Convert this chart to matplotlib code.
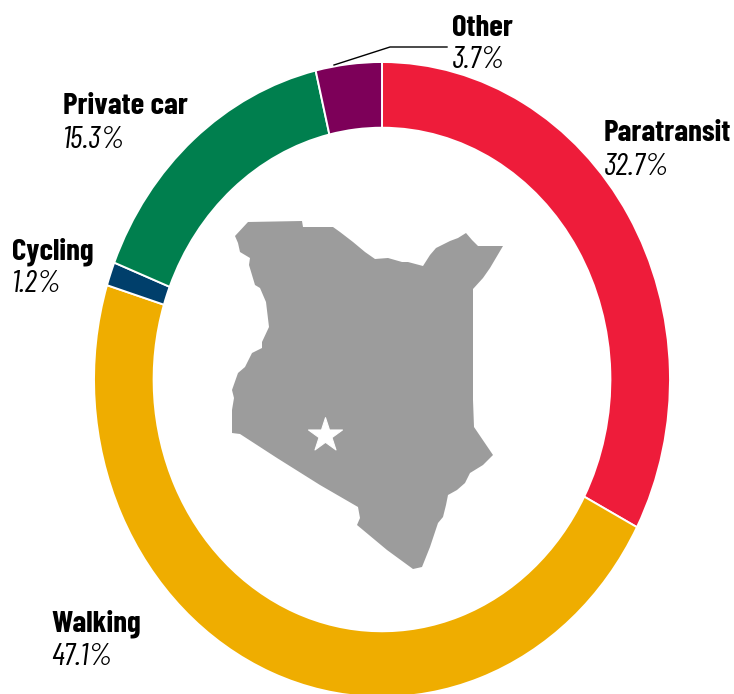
import matplotlib
matplotlib.use('Agg')
import matplotlib.pyplot as plt

# mode share, clockwise from the top
modes = ['Paratransit', 'Walking', 'Cycling', 'Private car', 'Other']
shares = [32.7, 47.1, 1.2, 15.3, 3.7]
share_labels = ['32.7%', '47.1%', '1.2%', '15.3%', '3.7%']
colors = ['#EE1C3A', '#EFAD00', '#003F6B', '#007F4E', '#7D0059']

label_x = [604, 51, 12, 63, 452]
name_y = [141, 632, 259, 114, 36]
share_y = [175, 665, 292, 148, 68]

# Kenya outline, traced in image pixels
map_x = [248, 302, 303, 333, 340, 353, 365, 375, 388, 402, 408, 423, 430, 436, 450, 458, 466,
         472, 478, 503, 490, 483, 473, 473, 474, 493, 483, 470, 465, 457, 448, 446, 443, 438,
         430, 422, 413, 387, 363, 357, 360, 358, 320, 277, 240, 232, 232, 234, 232, 238, 245,
         252, 262, 262, 269, 266, 260, 255, 249, 250, 240, 238, 235]
map_y = [222, 221, 227, 227, 232, 242, 252, 259, 258, 262, 262, 266, 255, 248, 241, 238, 233,
         240, 246, 246, 268, 278, 289, 400, 427, 455, 465, 473, 483, 490, 495, 505, 517, 523,
         547, 567, 569, 550, 530, 525, 518, 507, 485, 458, 434, 433, 410, 398, 390, 373, 367,
         353, 348, 342, 327, 302, 288, 285, 265, 258, 252, 243, 236]
star_x = [325]
star_y = [435]

leader_x = [334, 390, 447]
leader_y = [65, 47, 47]

W, H = 734, 694
fig = plt.figure(figsize=(W / 100, H / 100), dpi=100)

# ring is stretched vertically in the original and runs off the bottom edge
ax = fig.add_axes([94 / W, 1 - 697 / H, 576 / W, 635 / H])
ax.pie(shares, colors=colors, startangle=90, counterclock=False, radius=1,
       wedgeprops=dict(width=0.207, edgecolor='white', linewidth=1.4))
ax.set_aspect('auto')
ax.set_xlim(-1, 1)
ax.set_ylim(-1, 1)

# overlay in pixel coordinates for map and labels
ov = fig.add_axes([0, 0, 1, 1])
ov.set_xlim(0, W)
ov.set_ylim(H, 0)
ov.axis('off')
ov.fill(map_x, map_y, color='#9C9C9C', lw=0)
ov.scatter(star_x, star_y, marker='*', s=660, color='white', linewidths=0.8)
ov.plot(leader_x, leader_y, color='black', lw=1)

font = ['Barlow Condensed', 'DejaVu Sans']
for i in range(len(modes)):
    ov.text(label_x[i], name_y[i], modes[i], family=font, fontsize=22.3, fontweight='bold',
            va='baseline', ha='left', color='black')
    ov.text(label_x[i], share_y[i], share_labels[i], family=font, fontsize=22.6, fontweight='normal',
            style='italic', va='baseline', ha='left', color='black')

fig.savefig('out.png', dpi=100)
